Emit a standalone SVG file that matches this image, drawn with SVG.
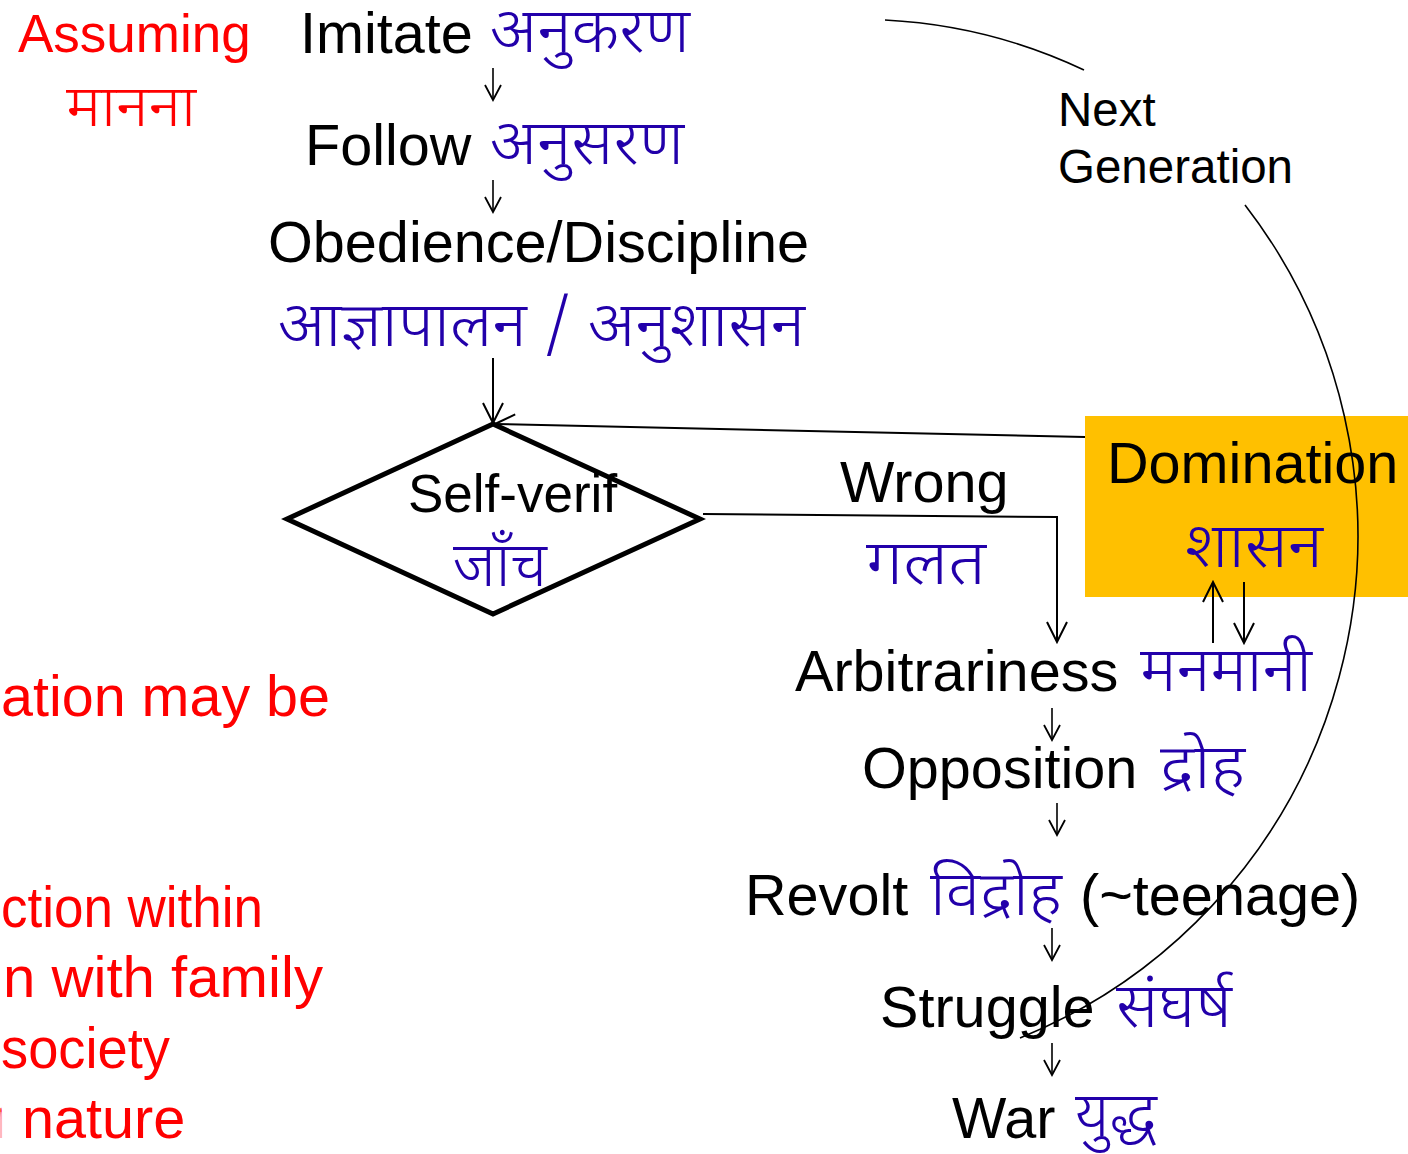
<svg xmlns="http://www.w3.org/2000/svg" width="1408" height="1154" viewBox="0 0 1408 1154">
<style>
.en{font-family:"Liberation Sans",Arial,sans-serif;font-size:57.6px;fill:#000}
.hi{font-family:"Noto Sans Devanagari","Lohit Devanagari","Mangal","Noto Sans",sans-serif;font-size:62px;font-weight:300;fill:#2200AA}
.red{font-family:"Liberation Sans",Arial,sans-serif;font-size:57.6px;fill:#FF0000}
.ln{stroke:#000;stroke-width:2;fill:none}
.thin{stroke:#000;stroke-width:1.6;fill:none}
</style>
<defs>
<marker id="ah" viewBox="0 0 20 20" refX="18" refY="10" markerWidth="20" markerHeight="20" markerUnits="userSpaceOnUse" orient="auto">
<path d="M3,2 L18,10 L3,18" fill="none" stroke="#000" stroke-width="1.8"/>
</marker>
<marker id="ahb" viewBox="0 0 24 24" refX="22" refY="12" markerWidth="24" markerHeight="24" markerUnits="userSpaceOnUse" orient="auto">
<path d="M2,2 L22,12 L2,22" fill="none" stroke="#000" stroke-width="2"/>
</marker>
</defs>
<rect width="1408" height="1154" fill="#fff"/>

<g id="assuming">
<text class="red" x="18" y="52" style="font-size:53px">Assuming</text>
<text class="hi" x="66" y="126" textLength="130" lengthAdjust="spacingAndGlyphs" style="fill:#FF0000;font-size:57px">मानना</text>
</g>
<g id="left-notes">
<text class="red" x="1" y="716" textLength="329" lengthAdjust="spacingAndGlyphs">ation may be</text>
<text class="red" x="1" y="927" textLength="262" lengthAdjust="spacingAndGlyphs">ction within</text>
<text class="red" x="3" y="997" textLength="320" lengthAdjust="spacingAndGlyphs">n with family</text>
<text class="red" x="1" y="1068" textLength="169" lengthAdjust="spacingAndGlyphs">society</text>
<text class="red" y="1138"><tspan x="0" textLength="3" lengthAdjust="spacingAndGlyphs">n </tspan><tspan x="22">nature</tspan></text>
</g>

<g id="imitate">
<text class="en" x="300" y="53">Imitate</text>
<text class="hi" x="490" y="52" textLength="200" lengthAdjust="spacingAndGlyphs">अनुकरण</text>
</g>
<g id="follow">
<text class="en" x="305" y="165">Follow</text>
<text class="hi" x="490" y="164" textLength="194" lengthAdjust="spacingAndGlyphs">अनुसरण</text>
</g>
<g id="obedience">
<text class="en" x="268" y="262">Obedience/Discipline</text>
<text class="hi" x="278" y="346" textLength="527" lengthAdjust="spacingAndGlyphs">आज्ञापालन / अनुशासन</text>
</g>
<g id="self-verif">
<polygon points="287,519 493,424 700,519 493,614" fill="#fff" stroke="#000" stroke-width="5" stroke-linejoin="miter"/>
<text class="en" x="408" y="512" style="font-size:53px">Self-verif</text>
<text class="hi" x="453" y="586" textLength="94" lengthAdjust="spacingAndGlyphs">जाँच</text>
</g>
<g id="wrong">
<text class="en" x="840" y="502">Wrong</text>
<text class="hi" x="866" y="584" textLength="120" lengthAdjust="spacingAndGlyphs">गलत</text>
</g>
<g id="domination">
<rect x="1085" y="416" width="330" height="181" fill="#FFC000"/>
<text class="en" x="1107" y="483">Domination</text>
<text class="hi" x="1185" y="567" textLength="138" lengthAdjust="spacingAndGlyphs">शासन</text>
</g>
<g id="arbitrariness">
<text class="en" x="795" y="691">Arbitrariness</text>
<text class="hi" x="1140" y="691" textLength="172" lengthAdjust="spacingAndGlyphs">मनमानी</text>
</g>
<g id="opposition">
<text class="en" x="862" y="788">Opposition</text>
<text class="hi" x="1160" y="788" textLength="85" lengthAdjust="spacingAndGlyphs">द्रोह</text>
</g>
<g id="revolt">
<text class="en" x="745" y="915">Revolt</text>
<text class="hi" x="930" y="915" textLength="132" lengthAdjust="spacingAndGlyphs">विद्रोह</text>
<text class="en" x="1080" y="915">(~teenage)</text>
</g>
<g id="struggle">
<text class="en" x="880" y="1027">Struggle</text>
<text class="hi" x="1116" y="1027" textLength="116" lengthAdjust="spacingAndGlyphs">संघर्ष</text>
</g>
<g id="war">
<text class="en" x="952" y="1138">War</text>
<text class="hi" x="1075" y="1136" textLength="82" lengthAdjust="spacingAndGlyphs">युद्ध</text>
</g>
<g id="next-generation">
<text class="en" x="1058" y="126" style="font-size:47.5px">Next</text>
<text class="en" x="1058" y="183" style="font-size:47.5px">Generation</text>
</g>

<g id="connectors">
<line class="thin" x1="493" y1="68" x2="493" y2="100" marker-end="url(#ah)"/>
<line class="thin" x1="493" y1="180" x2="493" y2="212" marker-end="url(#ah)"/>
<line class="ln" x1="493" y1="358" x2="493" y2="423" marker-end="url(#ahb)"/>
<line class="ln" x1="1085" y1="437" x2="495" y2="424" marker-end="url(#ahb)"/>
<polyline class="ln" points="703,514 1057,517 1057,642" marker-end="url(#ahb)"/>
<line class="ln" x1="1213" y1="643" x2="1213" y2="582" marker-end="url(#ahb)"/>
<line class="ln" x1="1244" y1="582" x2="1244" y2="643" marker-end="url(#ahb)"/>
<line class="thin" x1="1052" y1="708" x2="1052" y2="740" marker-end="url(#ah)"/>
<line class="thin" x1="1057" y1="803" x2="1057" y2="835" marker-end="url(#ah)"/>
<line class="thin" x1="1052" y1="928" x2="1052" y2="960" marker-end="url(#ah)"/>
<line class="thin" x1="1052" y1="1043" x2="1052" y2="1075" marker-end="url(#ah)"/>
<path class="thin" d="M885,20 A528,528 0 0 1 1084,70"/>
<path class="thin" d="M1245,205 A542,542 0 0 1 1020,1038"/>
</g>
</svg>
